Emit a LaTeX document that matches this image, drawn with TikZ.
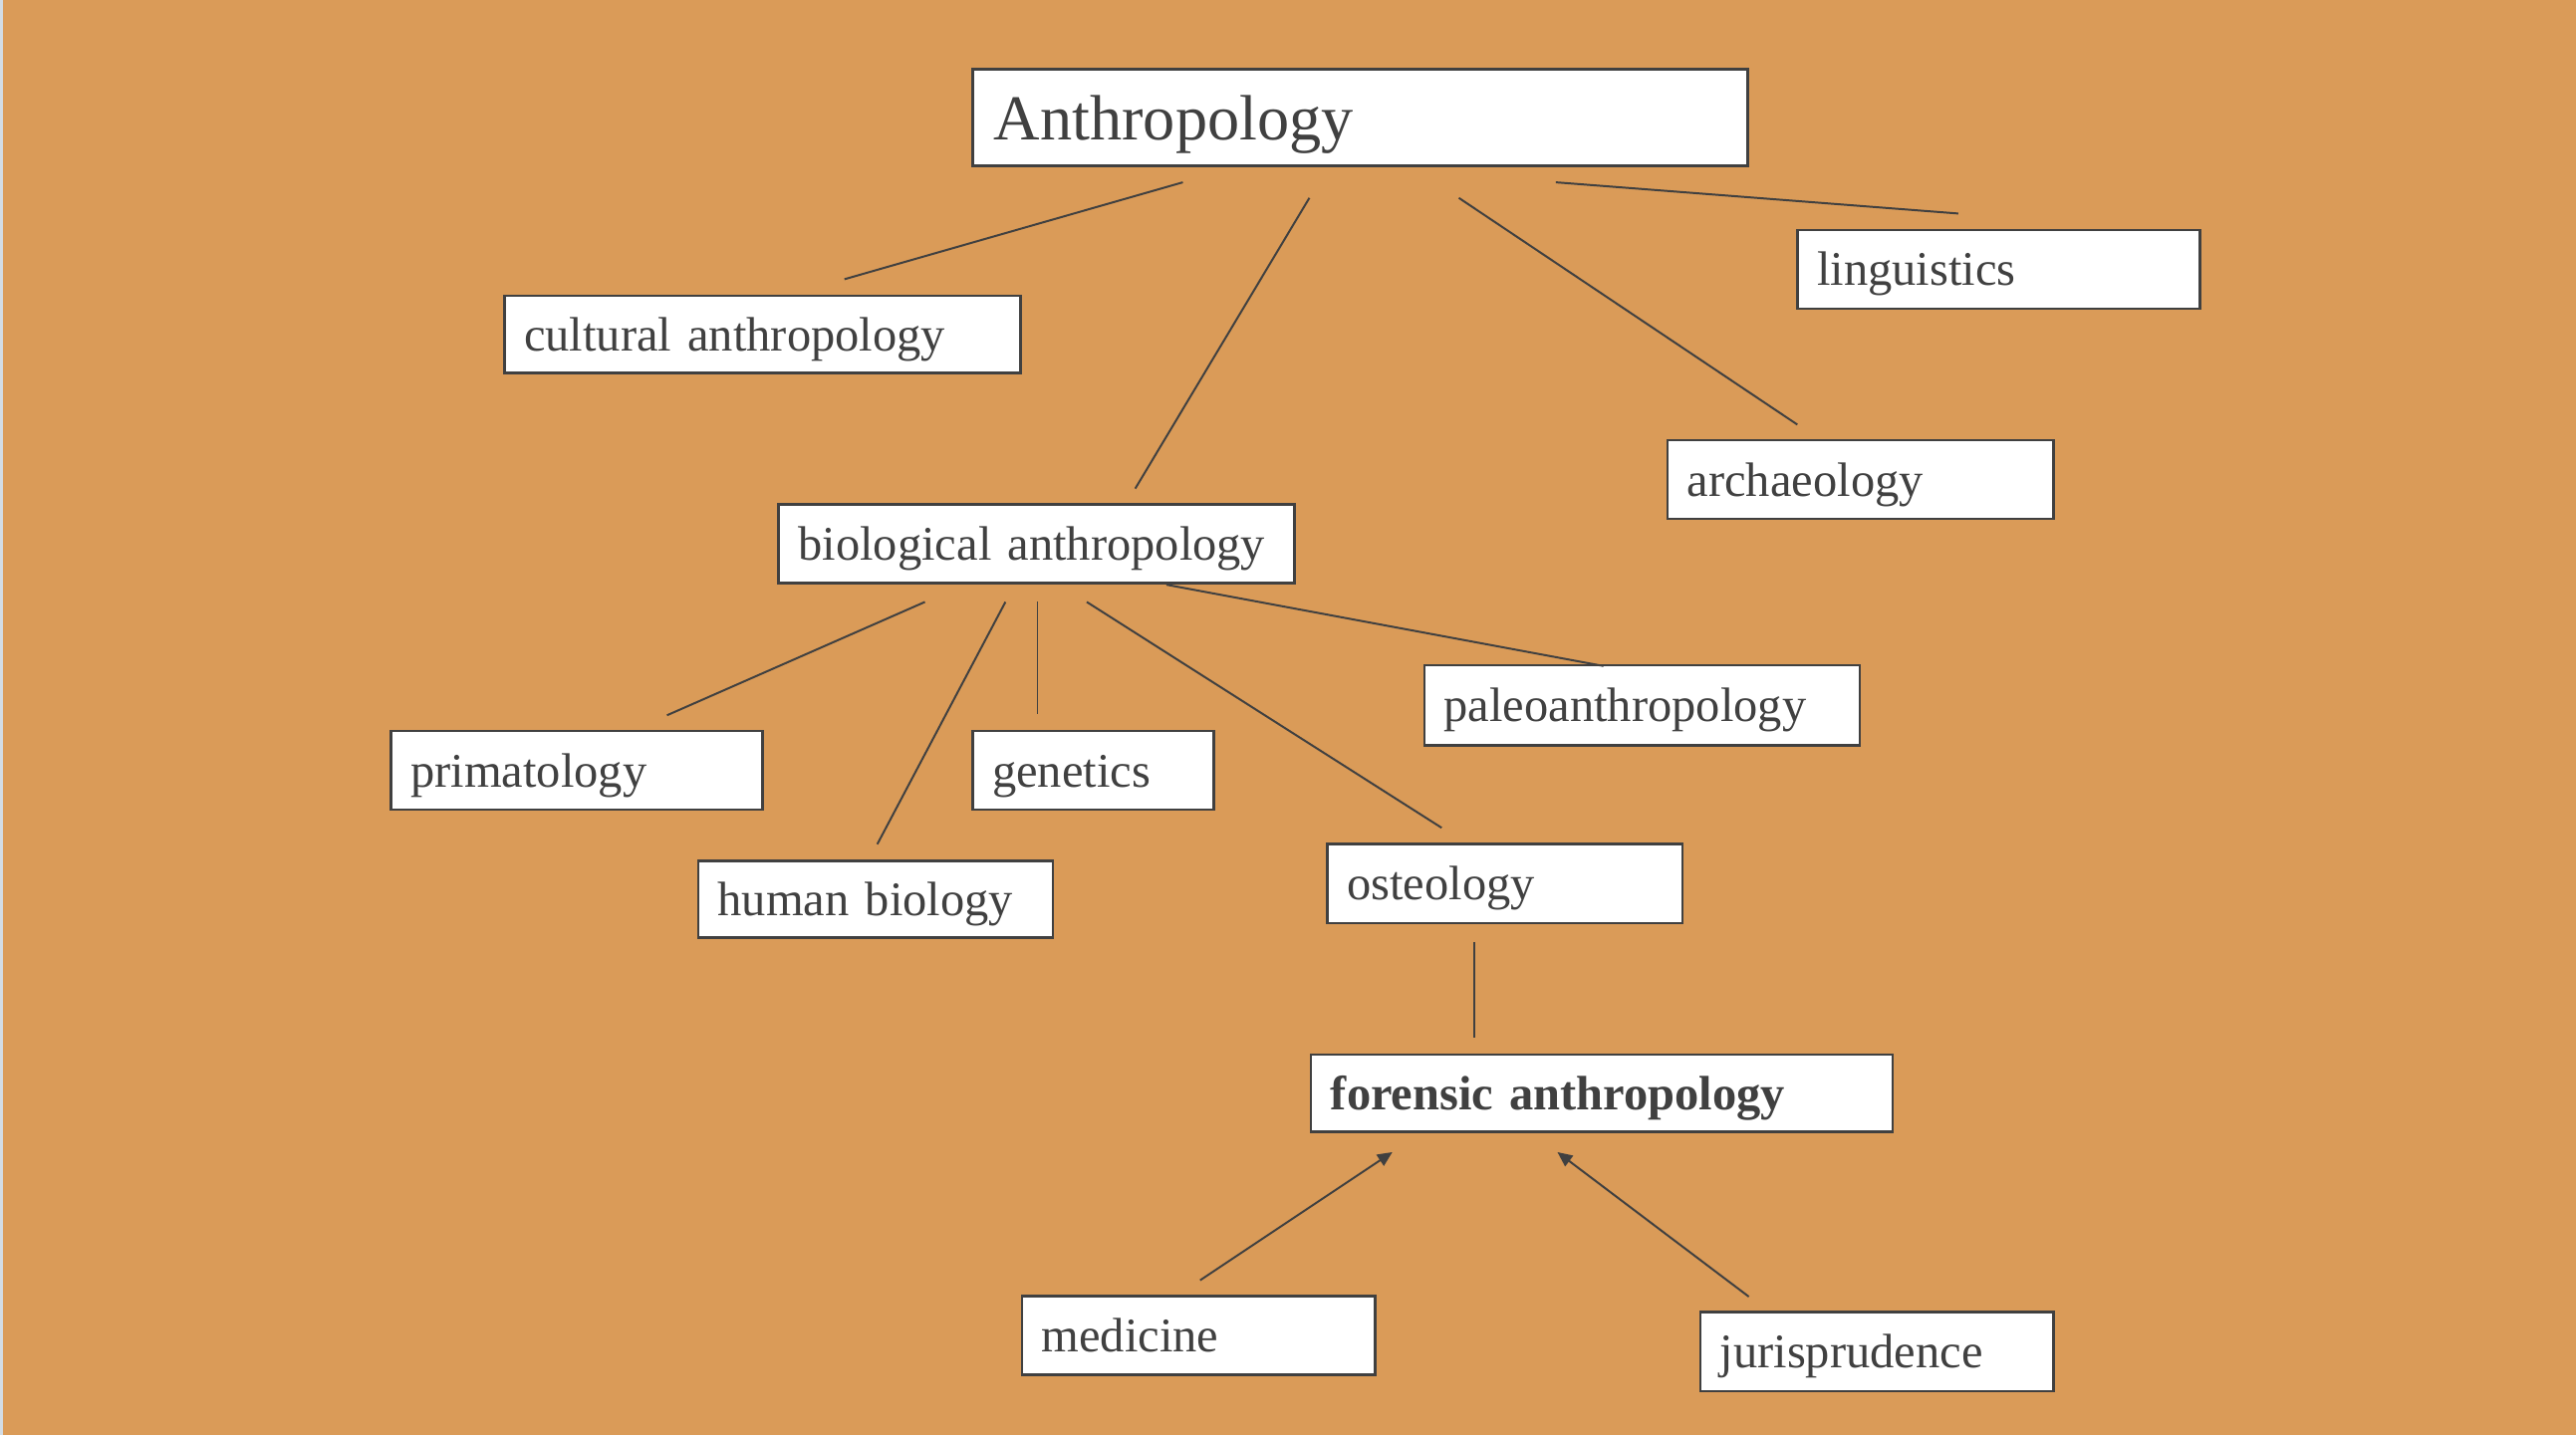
\documentclass[tikz,border=0pt]{standalone}
\usepackage{fontspec}
\setmainfont{Liberation Serif}
\usetikzlibrary{arrows.meta}
\definecolor{bg}{HTML}{DA9B58}
\definecolor{ink}{HTML}{404040}
\definecolor{edgestrip}{HTML}{D3DCE4}
\begin{document}
\begin{tikzpicture}[x=0.5pt,y=-0.5pt,
  box/.style={draw=ink, line width=0.8pt, fill=white, text=ink, inner xsep=6pt, inner ysep=0pt,
    outer sep=0pt, align=left, font=\fontsize{14.7}{17}\selectfont, text height=11.5pt, text depth=1.5pt},
  titlebox/.style={box, inner xsep=6.5pt, font=\fontsize{19.5}{23}\selectfont, text height=15pt, text depth=1.5pt},
  link/.style={draw=ink, line width=0.6pt},
  arr/.style={link, -{Triangle[length=4.5pt,width=4pt]}}]
\useasboundingbox (0,0) rectangle (1568,874);
\fill[bg] (0,0) rectangle (1568,874);
\fill[edgestrip] (0,0) rectangle (1.8,874);

\node[titlebox, text width=223pt, minimum height=29.5pt] (anth) at (828,71.5) {Anthropology};
\node[box, text width=145pt, minimum height=23.5pt] (cult) at (464,203.5) {cultural anthropology};
\node[box, text width=110.5pt, minimum height=24pt] (ling) at (1216.5,164) {linguistics};
\node[box, text width=105.5pt, minimum height=24pt] (arch) at (1132.5,292) {archaeology};
\node[box, text width=145pt, minimum height=24pt] (bio) at (631,331) {biological anthropology};
\node[box, text width=120.5pt, minimum height=24.5pt] (paleo) at (999.5,429.5) {paleoanthropology};
\node[box, text width=101pt, minimum height=24pt] (prim) at (351,469) {primatology};
\node[box, text width=61.5pt, minimum height=24pt] (gen) at (665.5,469) {genetics};
\node[box, text width=96pt, minimum height=23.5pt] (hum) at (533,547.5) {human biology};
\node[box, text width=96pt, minimum height=24pt] (ost) at (916,538) {osteology};
\node[box, text width=165pt, minimum height=23.5pt] (fore) at (975,665.5) {\textbf{forensic anthropology}};
\node[box, text width=95.5pt, minimum height=24pt] (med) at (729.5,813) {medicine};
\node[box, text width=95.5pt, minimum height=24pt] (jur) at (1142.5,823) {jurisprudence};

\draw[link] ([shift={(128,10)}]anth.south west) -- ([shift={(207,-10)}]cult.north west);
\draw[link] ([shift={(205,19.5)}]anth.south west) -- ([shift={(217,-9.5)}]bio.north west);
\draw[link] ([shift={(296,19.5)}]anth.south west) -- ([shift={(79,-9.5)}]arch.north west);
\draw[link] ([shift={(355,10)}]anth.south west) -- ([shift={(98,-10)}]ling.north west);

\draw[link] ([shift={(89,11.5)}]bio.south west) -- ([shift={(168,-9.5)}]prim.north west);
\draw[link] ([shift={(138,11.5)}]bio.south west) -- ([shift={(109,-10)}]hum.north west);
\draw[link] ([shift={(157.5,11.5)}]bio.south west) -- ([shift={(39.5,-10)}]gen.north west);
\draw[link] ([shift={(187.5,11.5)}]bio.south west) -- ([shift={(69.5,-10)}]ost.north west);
\draw[link] ([shift={(236,1)}]bio.south west) -- ([shift={(109,0.5)}]paleo.north west);

\draw[link] ([shift={(89.5,11.5)}]ost.south west) -- ([shift={(99.5,-10.5)}]fore.north west);

\draw[arr] ([shift={(108.5,-9.5)}]med.north west) -- ([shift={(49.5,12.5)}]fore.south west);
\draw[arr] ([shift={(29.5,-9.5)}]jur.north west) -- ([shift={(150,12.5)}]fore.south west);
\end{tikzpicture}
\end{document}
